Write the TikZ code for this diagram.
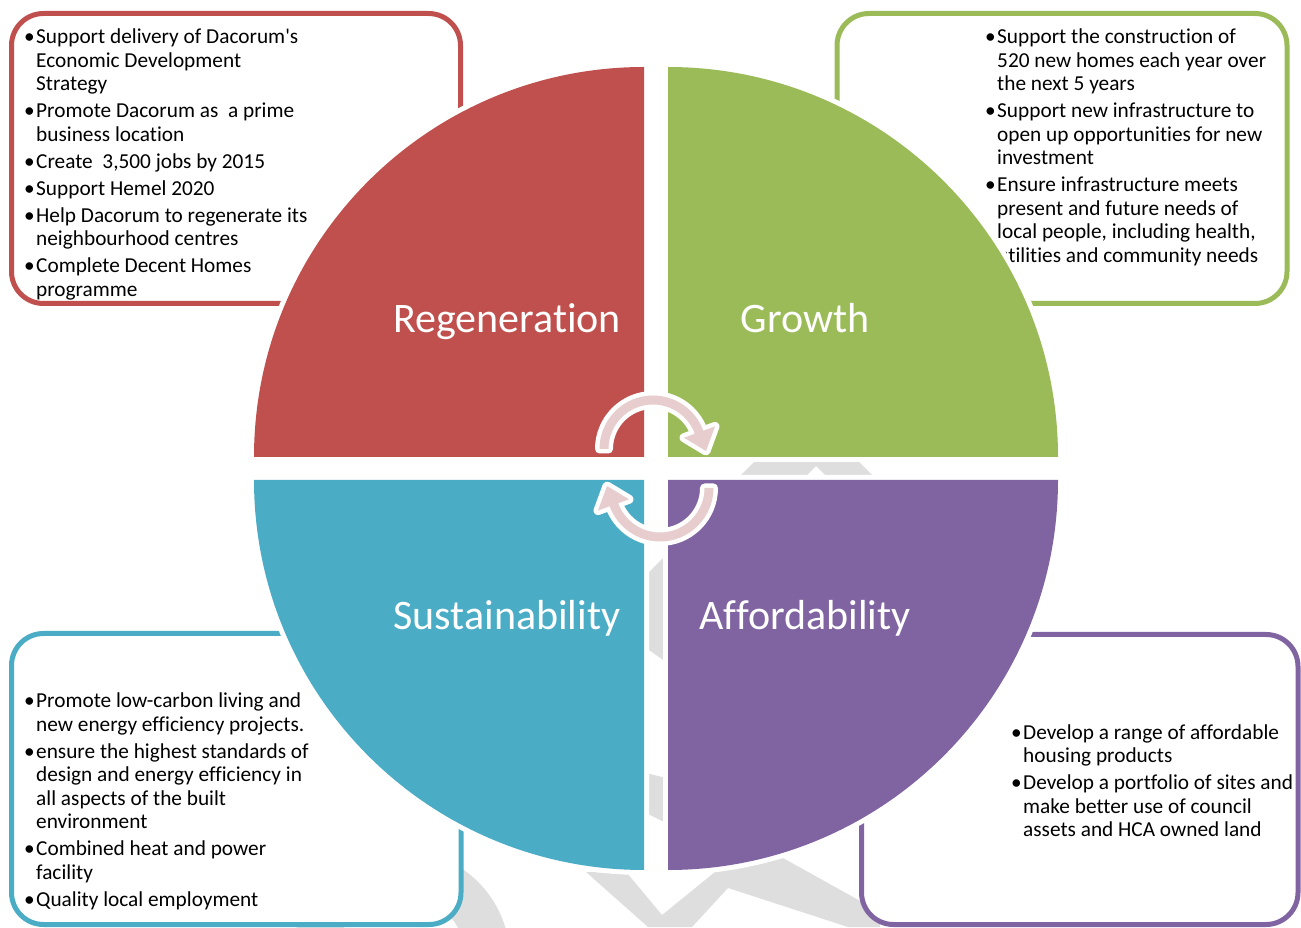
\documentclass[tikz,border=0pt]{standalone}
\usepackage{fontspec}
\setmainfont{Carlito}[Ligatures={TeXOff,NoCommon}]

\definecolor{regcol}{HTML}{C0504D}
\definecolor{growcol}{HTML}{9BBB59}
\definecolor{suscol}{HTML}{4BACC6}
\definecolor{affcol}{HTML}{8064A2}
\definecolor{turncol}{HTML}{E8CDCE}
\definecolor{wmcol}{HTML}{DEDEDE}

\newcommand{\bitem}{\llap{\textbullet\hspace{1.5pt}}}

\tikzset{
	box/.style={draw=#1, line width=5pt, rounded corners=32pt, fill=white, inner sep=0pt},
	listtext/.style={anchor=base west, inner sep=0pt, font=\fontsize{21.3}{23.5}\selectfont},
	heading/.style={anchor=base, inner sep=0pt, text=white, font=\fontsize{42}{48}\selectfont},
	quarter/.style={fill=#1, preaction={draw=white, line width=10pt}},
	turn/.style={fill=turncol, preaction={draw=white, line width=9pt, line join=round}},
}

\begin{document}
\begin{tikzpicture}[x=1pt, y=1pt]
\useasboundingbox (0,0) rectangle (1301,927);

\draw[wmcol, line width=44pt] (488,-32) arc[start angle=0, end angle=180, radius=87pt];
\fill[wmcol] (586,55) -- (627,54) -- (662,12) -- (715,55) -- (783,69) -- (880,15) -- (880,0) -- (848,0) -- (728,39) -- (692,0) -- (648,0) -- cycle;
\fill[wmcol] (763,474) -- (850,474) -- (883,441) -- (836,441) -- (816,461) -- (796,441) -- (730,441) -- cycle;
\fill[wmcol] (646,352) -- (666,372) -- (666,265) -- (646,279) -- cycle;
\fill[wmcol] (646,154) -- (666,149) -- (666,104) -- (646,114) -- cycle;
\draw[wmcol, line width=40pt, line cap=round] (875,117) -- (920,62);

\node[box=regcol, minimum width=449pt, minimum height=290pt] (regbox) at (236,768.5) {};
\node[box=growcol, minimum width=450pt, minimum height=290pt] (growbox) at (1062,768.5) {};
\node[box=suscol, minimum width=449.5pt, minimum height=291pt] (susbox) at (236.25,148) {};
\node[box=affcol, minimum width=436.5pt, minimum height=290pt] (affbox) at (1079.75,147.5) {};

\node[listtext] (regtext) at (36,883) {\begin{tabular}[t]{@{}l@{}}
\bitem Support delivery of Dacorum's\\
Economic Development\\
Strategy\\[3.5pt]
\bitem Promote Dacorum as\ \ a prime\\
business location\\[3.5pt]
\bitem Create\ \ 3,500 jobs by 2015\\[3.5pt]
\bitem Support Hemel 2020\\[3.5pt]
\bitem Help Dacorum to regenerate its\\
neighbourhood centres\\[3.5pt]
\bitem Complete Decent Homes\\
programme
\end{tabular}};
\node[listtext] (growtext) at (997,883) {\begin{tabular}[t]{@{}l@{}}
\bitem Support the construction of\\
520 new homes each year over\\
the next 5 years\\[3.5pt]
\bitem Support new infrastructure to\\
open up opportunities for new\\
investment\\[3.5pt]
\bitem Ensure infrastructure meets\\
present and future needs of\\
local people, including health,\\
utilities and community needs
\end{tabular}};
\node[listtext] (sustext) at (36,219) {\begin{tabular}[t]{@{}l@{}}
\bitem Promote low-carbon living and\\
new energy efficiency projects.\\[3.5pt]
\bitem ensure the highest standards of\\
design and energy efficiency in\\
all aspects of the built\\
environment\\[3.5pt]
\bitem Combined heat and power\\
facility\\[3.5pt]
\bitem Quality local employment
\end{tabular}};
\node[listtext] (afftext) at (1023,188) {\begin{tabular}[t]{@{}l@{}}
\bitem Develop a range of affordable\\
housing products\\[3.5pt]
\bitem Develop a portfolio of sites and\\
make better use of council\\
assets and HCA owned land
\end{tabular}};

\foreach \col/\cx/\cy/\a in {regcol/644/470/90, growcol/668/470/0, suscol/644/447/180, affcol/668/447/270} {
	\path[quarter=\col] (\cx,\cy) -- ++(\a:390) arc[start angle=\a, delta angle=90, radius=390pt] -- cycle;
}

\node[heading] (regen) at (507,594) {Regeneration};
\node[heading] (growth) at (805,594) {Growth};
\node[heading] (sustain) at (507,297) {Sustainability};
\node[heading] (afford) at (805,297) {Affordability};

\foreach \r/\sx/\sy in {0/653/478, 180/660/439} {
	\path[turn, shift={(\sx,\sy)}, rotate=\r] (180:53.5) arc[start angle=180, end angle=20, radius=53.5pt]
		-- (20:66) -- (53,-2) -- (20:33) -- (20:44.5) arc[start angle=20, end angle=180, radius=44.5pt] -- cycle;
}
\end{tikzpicture}
\end{document}
